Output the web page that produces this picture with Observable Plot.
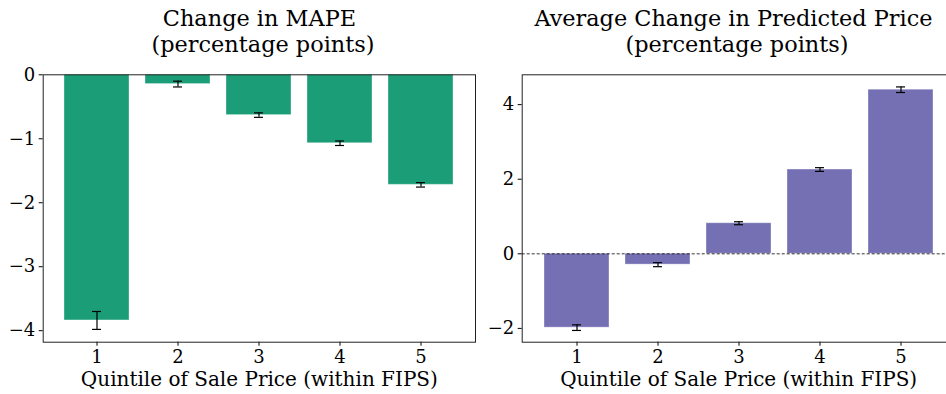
<!DOCTYPE html>
<html><head><meta charset="utf-8">
<script src="https://cdn.jsdelivr.net/npm/d3@7"></script>
<script src="https://cdn.jsdelivr.net/npm/@observablehq/plot@0.6"></script>
<style>
body{margin:0;background:#fff;}
#wrap{position:relative;width:946px;height:394px;overflow:hidden;font-family:"DejaVu Serif",serif;background:#fff;}
.title{position:absolute;top:5px;width:480px;text-align:center;font-size:22.4px;line-height:26px;color:#000;white-space:pre;}
.panel{position:absolute;top:0;}
</style></head><body><div id="wrap"></div>
<script>
const quintiles = [1, 2, 3, 4, 5];
const mapeChange = [-3.84, -0.145, -0.63, -1.07, -1.72];
const mapeErr = [0.14, 0.045, 0.035, 0.035, 0.035];
const priceChange = [-1.98, -0.29, 0.82, 2.26, 4.40];
const priceErr = [0.075, 0.055, 0.04, 0.05, 0.075];
const leftTitle = "Change in MAPE \n(percentage points)";
const rightTitle = "Average Change in Predicted Price \n(percentage points)";
const xLabel = "Quintile of Sale Price (within FIPS)";
const leftTicks = [-4, -3, -2, -1, 0];
const rightTicks = [-2, 0, 2, 4];

const wrap = document.getElementById("wrap");
const fmt = d => (d < 0 ? "\u2212" + Math.abs(d) : String(d));

function panel({values, errs, color, yDomain, yTicks, left, mLeft, mRight, zeroLine, title, titleCenter}) {
  const data = quintiles.map((q, i) => ({q, v: values[i], e: errs[i]}));
  const marks = [
    Plot.barY(data, {x: "q", y: "v", fill: color, stroke: "white", strokeOpacity: 0.35, strokeWidth: 1}),
  ];
  if (zeroLine) marks.push(Plot.ruleY([0], {stroke: "black", strokeWidth: 0.8, strokeDasharray: "3,2"}));
  marks.push(
    Plot.ruleX(data, {x: "q", y1: d => d.v - d.e, y2: d => d.v + d.e, stroke: "black", strokeWidth: 1.2}),
    Plot.tickY(data, {x: "q", y: d => d.v - d.e, stroke: "black", strokeWidth: 1.2, insetLeft: 28, insetRight: 28}),
    Plot.tickY(data, {x: "q", y: d => d.v + d.e, stroke: "black", strokeWidth: 1.2, insetLeft: 28, insetRight: 28}),
    Plot.axisY({ticks: yTicks, tickFormat: fmt, tickSize: 4, tickPadding: 4, label: null}),
    Plot.axisX({tickSize: 4, tickPadding: 4, label: xLabel, labelAnchor: "center", labelArrow: "none", labelOffset: 44}),
    Plot.frame({stroke: "#222", strokeWidth: 1})
  );
  const chart = Plot.plot({
    width: 480, height: 394,
    marginLeft: mLeft, marginRight: mRight, marginTop: 74.3, marginBottom: 52.3,
    style: {fontFamily: "'DejaVu Serif', serif", fontSize: "18px", color: "#000", background: "transparent", overflow: "visible"},
    x: {type: "band", domain: quintiles, paddingInner: 0.2, paddingOuter: 0.24},
    y: {domain: yDomain},
    marks
  });
  chart.querySelectorAll('g[aria-label$="tick label"]').forEach(g => {
    g.setAttribute("font-size", "18");
    g.style.fontSize = "18px";
    g.setAttribute("font-variant", "normal");
    g.querySelectorAll("text").forEach(t => { t.style.fontSize = "18px"; t.style.fontFamily = "'DejaVu Serif', serif"; });
  });
  chart.querySelectorAll('g[aria-label="x-axis label"]').forEach(g => {
    g.style.fontSize = "20px";
    g.querySelectorAll("text").forEach(t => { t.style.fontSize = "20px"; });
  });
  chart.classList.add("panel");
  chart.style.left = left + "px";
  wrap.appendChild(chart);
  const t = document.createElement("div");
  t.className = "title";
  t.textContent = title;
  t.style.left = (titleCenter - 240) + "px";
  wrap.appendChild(t);
}

panel({values: mapeChange, errs: mapeErr, color: "#1b9e77", yDomain: [-4.18, 0], yTicks: leftTicks,
  left: 0, mLeft: 42.7, mRight: 5, zeroLine: false, title: leftTitle, titleCenter: 263});
panel({values: priceChange, errs: priceErr, color: "#7570b3", yDomain: [-2.37, 4.80], yTicks: rightTicks,
  left: 480, mLeft: 41.7, mRight: 5.4, zeroLine: true, title: rightTitle, titleCenter: 737});
</script></body></html>
